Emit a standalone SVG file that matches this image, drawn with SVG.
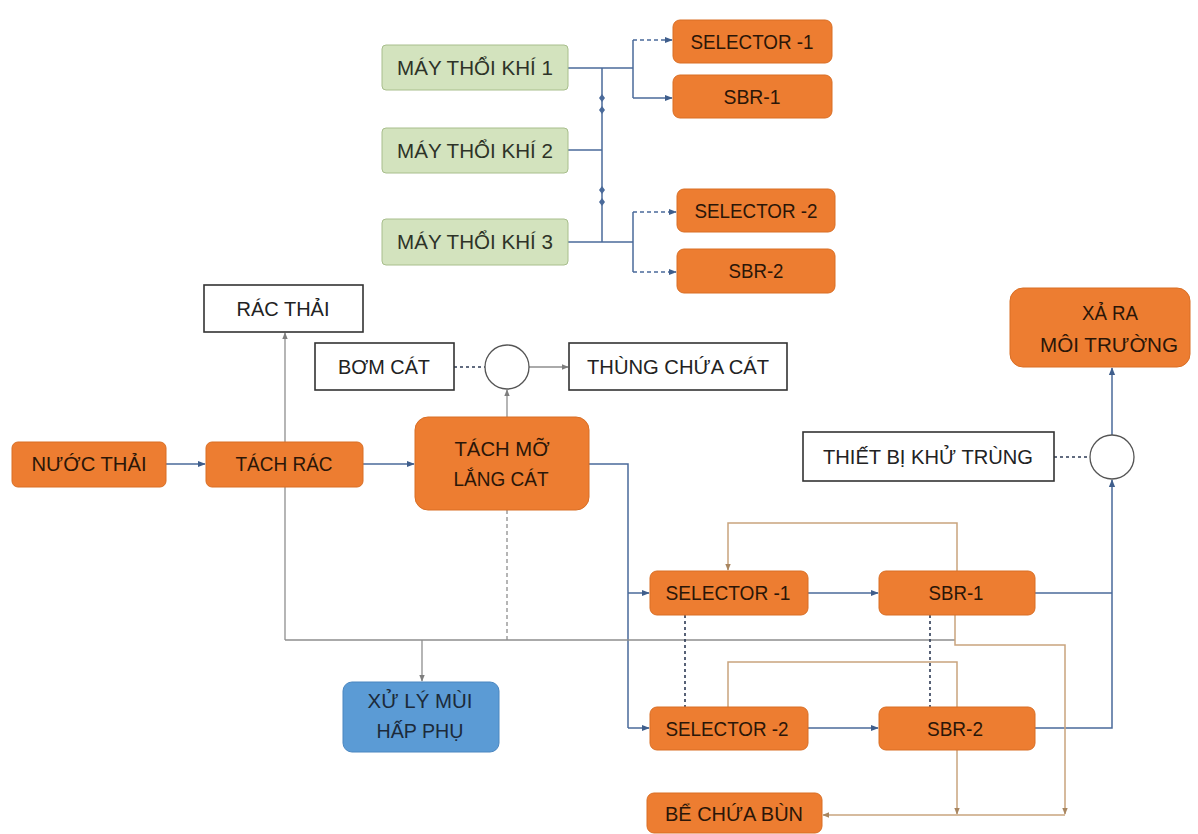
<svg xmlns="http://www.w3.org/2000/svg" width="1198" height="834" viewBox="0 0 1198 834">
<style>
.t{font-family:"Liberation Sans",Arial,sans-serif;font-size:21px;fill:#2b1608;text-anchor:middle}
.tg{fill:#2e3328}
.tw{fill:#222}
.tb{fill:#1c2a3a}
.or{fill:#ED7D31;stroke:#D96E24;stroke-width:1}
.gr{fill:#D3E3BE;stroke:#A8BE8C;stroke-width:1}
.bl{fill:#5B9BD5;stroke:#4A86C0;stroke-width:1}
.wh{fill:#fff;stroke:#333;stroke-width:1.6}
.ci{fill:#fff;stroke:#555;stroke-width:1.3}
.lb{fill:none;stroke:#4A6A9A;stroke-width:1.5}
.lg{fill:none;stroke:#8E8E8E;stroke-width:1.3}
.lt{fill:none;stroke:#C9A47E;stroke-width:1.5}
.ld{fill:none;stroke:#2E3B55;stroke-width:1.6;stroke-dasharray:3 3}
.dash{stroke-dasharray:4 3}
</style>
<defs>
<marker id="ab" viewBox="0 0 10 10" refX="9" refY="5" markerWidth="8" markerHeight="8" markerUnits="userSpaceOnUse" orient="auto"><path d="M0,1 L10,5 L0,9 z" fill="#3F5E8C"/></marker>
<marker id="ag" viewBox="0 0 10 10" refX="9" refY="5" markerWidth="7" markerHeight="7" markerUnits="userSpaceOnUse" orient="auto"><path d="M0,1 L10,5 L0,9 z" fill="#7E7E7E"/></marker>
<marker id="at" viewBox="0 0 10 10" refX="9" refY="5" markerWidth="7" markerHeight="7" markerUnits="userSpaceOnUse" orient="auto"><path d="M0,1 L10,5 L0,9 z" fill="#A88660"/></marker>
</defs>
<rect width="1198" height="834" fill="#fff"/>

<g id="connectors">
  <!-- air lines -->
  <path class="lb" d="M568,68 H633"/>
  <path class="lb" d="M602,68 V242"/>
  <path class="lb" d="M568,150 H602"/>
  <path class="lb" d="M568,242 H633"/>
  <path class="lb" d="M633,40 V98"/>
  <path class="lb" d="M633,212 V272"/>
  <path class="lb dash" d="M633,40 H672" marker-end="url(#ab)"/>
  <path class="lb" d="M633,98 H672" marker-end="url(#ab)"/>
  <path class="lb dash" d="M633,212 H676" marker-end="url(#ab)"/>
  <path class="lb dash" d="M633,272 H676" marker-end="url(#ab)"/>
  <path d="M602,94 l3,4 l-3,4 l-3,-4 z M602,106 l3,4 l-3,4 l-3,-4 z M602,186 l3,4 l-3,4 l-3,-4 z M602,198 l3,4 l-3,4 l-3,-4 z" fill="#4A6A9A"/>
  <!-- main process -->
  <path class="lb" d="M166,464 H205" marker-end="url(#ab)"/>
  <path class="lb" d="M363,464 H414" marker-end="url(#ab)"/>
  <path class="lb" d="M589,464 H628 V728"/>
  <path class="lb" d="M628,593 H649" marker-end="url(#ab)"/>
  <path class="lb" d="M628,728 H649" marker-end="url(#ab)"/>
  <path class="lb" d="M808,593 H878" marker-end="url(#ab)"/>
  <path class="lb" d="M808,728 H878" marker-end="url(#ab)"/>
  <path class="lb" d="M1035,593 H1112"/>
  <path class="lb" d="M1035,728 H1112 V480" marker-end="url(#ab)"/>
  <path class="lb" d="M1112,435 V368" marker-end="url(#ab)"/>
  <!-- grey lines -->
  <path class="lg" d="M285,640 V333" marker-end="url(#ag)"/>
  <path class="lg" d="M285,640 H955"/>
  <path class="lg dash" d="M507,510 V640"/>
  <path class="lg" d="M422,640 V681" marker-end="url(#ag)"/>
  <path class="lg" d="M507,417 V390" marker-end="url(#ag)"/>
  <path class="lg" d="M529,367 H568" marker-end="url(#ag)"/>
  <!-- dotted -->
  <path class="ld" d="M454,367 H485"/>
  <path class="ld" d="M1054,457 H1090"/>
  <path class="ld" d="M685,615 V707"/>
  <path class="ld" d="M930,615 V707"/>
  <!-- sludge -->
  <path class="lt" d="M957,571 V523 H728 V570" marker-end="url(#at)"/>
  <path class="lt" d="M957,707 V662 H728 V707"/>
  <path class="lt" d="M955,615 V645 H1065 V814" marker-end="url(#at)"/>
  <path class="lt" d="M957,750 V814" marker-end="url(#at)"/>
  <path class="lt" d="M1065,815 H823" marker-end="url(#at)"/>
</g>

<g id="may-thoi-khi-1"><rect class="gr" x="382" y="45" width="186" height="45" rx="4"/><text class="t tg" x="475" y="75" textLength="156" lengthAdjust="spacingAndGlyphs">MÁY THỔI KHÍ 1</text></g>
<g id="may-thoi-khi-2"><rect class="gr" x="382" y="128" width="186" height="45" rx="4"/><text class="t tg" x="475" y="158" textLength="156" lengthAdjust="spacingAndGlyphs">MÁY THỔI KHÍ 2</text></g>
<g id="may-thoi-khi-3"><rect class="gr" x="382" y="219" width="186" height="46" rx="4"/><text class="t tg" x="475" y="249" textLength="156" lengthAdjust="spacingAndGlyphs">MÁY THỔI KHÍ 3</text></g>

<g id="selector-1-air"><rect class="or" x="673" y="20" width="159" height="43" rx="7"/><text class="t" x="752" y="49" textLength="123" lengthAdjust="spacingAndGlyphs">SELECTOR -1</text></g>
<g id="sbr-1-air"><rect class="or" x="673" y="75" width="159" height="43" rx="7"/><text class="t" x="752" y="104" textLength="57" lengthAdjust="spacingAndGlyphs">SBR-1</text></g>
<g id="selector-2-air"><rect class="or" x="677" y="189" width="158" height="43" rx="7"/><text class="t" x="756" y="218" textLength="123" lengthAdjust="spacingAndGlyphs">SELECTOR -2</text></g>
<g id="sbr-2-air"><rect class="or" x="677" y="249" width="158" height="44" rx="7"/><text class="t" x="756" y="278" textLength="55" lengthAdjust="spacingAndGlyphs">SBR-2</text></g>

<g id="rac-thai"><rect class="wh" x="204" y="285" width="159" height="47"/><text class="t tw" x="283" y="316" textLength="93" lengthAdjust="spacingAndGlyphs">RÁC THẢI</text></g>
<g id="bom-cat"><rect class="wh" x="315" y="343" width="139" height="47"/><text class="t tw" x="384" y="374" textLength="92" lengthAdjust="spacingAndGlyphs">BƠM CÁT</text></g>
<g id="circle-1"><circle class="ci" cx="507" cy="367" r="22"/></g>
<g id="thung-chua-cat"><rect class="wh" x="569" y="343" width="218" height="47"/><text class="t tw" x="678" y="374" textLength="182" lengthAdjust="spacingAndGlyphs">THÙNG CHỨA CÁT</text></g>

<g id="nuoc-thai"><rect class="or" x="12" y="442" width="154" height="45" rx="6"/><text class="t" x="89" y="471" textLength="115" lengthAdjust="spacingAndGlyphs">NƯỚC THẢI</text></g>
<g id="tach-rac"><rect class="or" x="206" y="442" width="157" height="45" rx="6"/><text class="t" x="284" y="471" textLength="97" lengthAdjust="spacingAndGlyphs">TÁCH RÁC</text></g>
<g id="tach-mo-lang-cat"><rect class="or" x="415" y="417" width="174" height="93" rx="13"/><text class="t" x="502" y="456" textLength="95" lengthAdjust="spacingAndGlyphs">TÁCH MỠ</text><text class="t" x="501" y="486" textLength="95" lengthAdjust="spacingAndGlyphs">LẮNG CÁT</text></g>

<g id="xu-ly-mui"><rect class="bl" x="343" y="682" width="156" height="70" rx="9"/><text class="t tb" x="420" y="708" textLength="105" lengthAdjust="spacingAndGlyphs">XỬ LÝ MÙI</text><text class="t tb" x="420" y="738" textLength="87" lengthAdjust="spacingAndGlyphs">HẤP PHỤ</text></g>

<g id="thiet-bi-khu-trung"><rect class="wh" x="803" y="432" width="251" height="49"/><text class="t tw" x="928" y="464" textLength="210" lengthAdjust="spacingAndGlyphs">THIẾT BỊ KHỬ TRÙNG</text></g>
<g id="circle-2"><circle class="ci" cx="1112" cy="457" r="22"/></g>
<g id="xa-ra-moi-truong"><rect class="or" x="1010" y="288" width="180" height="79" rx="13"/><text class="t" x="1110" y="320" textLength="56" lengthAdjust="spacingAndGlyphs">XẢ RA</text><text class="t" x="1109" y="352" textLength="138" lengthAdjust="spacingAndGlyphs">MÔI TRƯỜNG</text></g>

<g id="selector-1"><rect class="or" x="650" y="571" width="158" height="44" rx="7"/><text class="t" x="728" y="600" textLength="125" lengthAdjust="spacingAndGlyphs">SELECTOR -1</text></g>
<g id="sbr-1"><rect class="or" x="879" y="571" width="156" height="44" rx="7"/><text class="t" x="956" y="600" textLength="55" lengthAdjust="spacingAndGlyphs">SBR-1</text></g>
<g id="selector-2"><rect class="or" x="650" y="707" width="158" height="43" rx="7"/><text class="t" x="727" y="736" textLength="123" lengthAdjust="spacingAndGlyphs">SELECTOR -2</text></g>
<g id="sbr-2"><rect class="or" x="879" y="707" width="156" height="43" rx="7"/><text class="t" x="955" y="736" textLength="56" lengthAdjust="spacingAndGlyphs">SBR-2</text></g>
<g id="be-chua-bun"><rect class="or" x="647" y="793" width="175" height="40" rx="7"/><text class="t" x="734" y="821" textLength="138" lengthAdjust="spacingAndGlyphs">BỂ CHỨA BÙN</text></g>
</svg>
